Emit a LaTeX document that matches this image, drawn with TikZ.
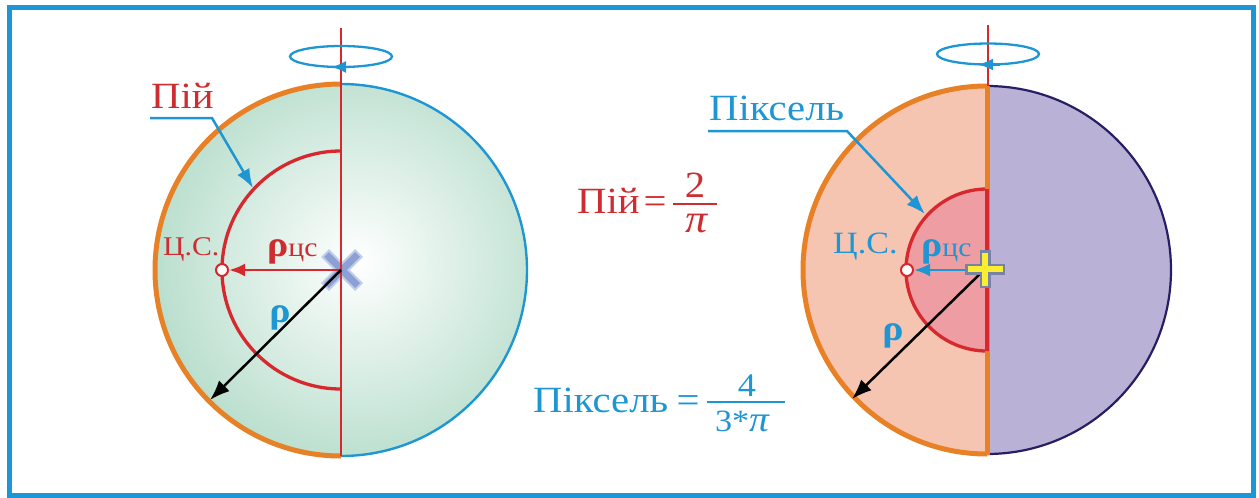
\documentclass[tikz,border=0pt]{standalone}
\usepackage{fontspec}
\setmainfont{Liberation Serif}[FakeStretch=1.1]
\usetikzlibrary{arrows.meta}
\definecolor{frameblue}{RGB}{28,150,214}
\definecolor{axred}{RGB}{214,40,45}
\definecolor{txtred}{RGB}{205,45,48}
\definecolor{orng}{RGB}{232,128,38}
\definecolor{lblue}{RGB}{30,150,212}
\definecolor{salmon}{RGB}{245,197,178}
\definecolor{pinkin}{RGB}{238,158,163}
\definecolor{lav}{RGB}{186,177,214}
\definecolor{navy}{RGB}{40,30,100}
\definecolor{sgreen}{RGB}{182,221,203}
\definecolor{xblue}{RGB}{140,160,212}
\definecolor{xlight}{RGB}{190,205,235}
\definecolor{plusyel}{RGB}{250,238,50}
\definecolor{plusgray}{RGB}{120,130,165}
\tikzset{
  big/.style={font=\fontsize{37}{40}\selectfont, inner sep=0pt},
  mid/.style={font=\fontsize{27}{30}\selectfont, inner sep=0pt},
  rhofont/.style={font=\fontsize{36}{40}\selectfont\bfseries, inner sep=0pt},
  leader/.style={lblue, line width=2.5pt, -{Latex[length=19pt,width=14pt]}},
  blackarr/.style={black, line width=2.5pt, -{Latex[length=20pt,width=15pt]}},
  rotell/.style={lblue, line width=2.3pt},
  rotarr/.style={lblue, line width=2.3pt, -{Latex[length=15pt,width=12pt]}},
  csdot/.style={circle, draw=axred, fill=white, line width=2pt, minimum size=12pt, inner sep=0pt},
}
\begin{document}
\begin{tikzpicture}[x=1pt,y=-1pt]
\useasboundingbox (0,0) rectangle (1259,498);
\draw[frameblue, line width=5pt] (9.5,7) rectangle (1253,495);

% ---------- left sphere ----------
\coordinate (L) at (341,270);
\begin{scope}
  \clip (L) circle (186pt);
  \shade[inner color=white, outer color=sgreen] (358,262) circle (215pt);
\end{scope}
\draw[lblue, line width=2.4pt] (341,84) arc[start angle=90, end angle=-90, radius=186pt];
\draw[orng, line width=5pt] (341,84) arc[start angle=90, end angle=270, radius=186pt];
\draw[axred, line width=3.3pt] (341,151) arc[start angle=90, end angle=270, radius=119pt];
% cross marker
\draw[xlight, line width=11pt] (325,253) -- (359,287) (325,287) -- (359,253);
\draw[xblue, line width=7pt] (326.5,254.5) -- (357.5,285.5) (326.5,285.5) -- (357.5,254.5);
% axis
\coordinate (LaxT) at (341,28);
\coordinate (LaxB) at (341,456);
\draw[axred, line width=1.8pt] (LaxT) -- (LaxB);
% rotation ellipse
\draw[rotell] (341,56.5) ellipse [x radius=51pt, y radius=10.5pt];
\coordinate (LeA) at (354,67);
\coordinate (LeB) at (331,67);
\draw[rotarr] (LeA) -- (LeB);
% centre of mass
\node[csdot] (Lcs) at (222,270) {};
\draw[axred, line width=2.8pt, -{Latex[length=16pt,width=13pt]}] (L) -- (Lcs);
\node[mid, txtred, anchor=base west] (Lcslbl) at (163,255) {Ц.С.};
\node[anchor=base west, txtred, inner sep=0pt] (Lrcs) at (267,256)
  {{\fontsize{36}{40}\selectfont\bfseries ρ}{\fontsize{27}{30}\selectfont цс}};
% radius
\coordinate (Lrim) at (210,400);
\draw[blackarr] (L) -- (Lrim);
\node[rhofont, lblue, anchor=base] (Lrho) at (280,322) {ρ};
% label Пій
\node[big, txtred, anchor=base west] (pij) at (151,108) {Пій};
\coordinate (pijA) at (150,118);
\coordinate (pijB) at (212,118);
\coordinate (pijC) at (253,188);
\draw[leader] (pijA) -- (pijB) -- (pijC);

% ---------- right sphere ----------
\coordinate (R) at (987,270);
\fill[salmon] (987,86) arc[start angle=90, end angle=270, radius=184pt] -- cycle;
\filldraw[fill=lav, draw=navy, line width=2.2pt] (987,86) arc[start angle=90, end angle=-90, radius=184pt];
\draw[orng, line width=5pt] (987,86) arc[start angle=90, end angle=270, radius=184pt];
\filldraw[fill=pinkin, draw=axred, line width=3.3pt] (987,189) arc[start angle=90, end angle=270, radius=81pt] -- cycle;
\coordinate (RaxT) at (988,25);
\coordinate (RaxM) at (988,86);
\coordinate (RaxB) at (987,455);
\draw[axred, line width=1.8pt] (RaxT) -- (RaxM);
\draw[orng, line width=5pt] (987,86) -- (RaxB);
\draw[axred, line width=3.8pt] (987,189) -- (987,351);
\draw[rotell] (988,54) ellipse [x radius=51pt, y radius=10.5pt];
\coordinate (ReA) at (1000,64.5);
\coordinate (ReB) at (978,64.5);
\draw[rotarr] (ReA) -- (ReB);
% centre of mass
\node[csdot] (Rcs) at (907,270) {};
\draw[blackarr] (984,270) -- (852,399);
\draw[lblue, line width=2.8pt, -{Latex[length=16pt,width=13pt]}] (975,270) -- (Rcs);
% plus marker
\draw[plusgray, line width=11pt] (965,269) -- (1005,269) (985,250) -- (985,288);
\draw[plusyel, line width=6.5pt] (967.5,269) -- (1002.5,269) (985,252.5) -- (985,285.5);
\node[font=\fontsize{31}{34}\selectfont, inner sep=0pt, lblue, anchor=base west] (Rcslbl) at (833,253) {Ц.С.};
\node[anchor=base west, lblue, inner sep=0pt] (Rrcs) at (921,256)
  {{\fontsize{36}{40}\selectfont\bfseries ρ}{\fontsize{27}{30}\selectfont цс}};
\node[rhofont, lblue, anchor=base] (Rrho) at (893,340) {ρ};
% label Піксель
\node[big, lblue, anchor=base west] (pix) at (709,120) {Піксель};
\coordinate (pixA) at (708,131);
\coordinate (pixB) at (847,131);
\coordinate (pixC) at (925,214);
\draw[leader] (pixA) -- (pixB) -- (pixC);

% ---------- formulas ----------
\node[big, txtred, anchor=base west] (f1a) at (577,213) {Пій};
\node[big, txtred, anchor=base] (f1eq) at (655,213) {=};
\coordinate (f1L) at (673,204);
\coordinate (f1R) at (717,204);
\draw[txtred, line width=2pt] (f1L) -- (f1R);
\node[big, txtred, anchor=base] (f1n) at (695,197) {2};
\node[font=\fontsize{40}{42}\selectfont\itshape, inner sep=0pt, txtred, anchor=base] (f1d) at (697,232) {π};

\node[big, lblue, anchor=base west] (f2a) at (533,412) {Піксель};
\node[big, lblue, anchor=base] (f2eq) at (688,412) {=};
\coordinate (f2L) at (707,402);
\coordinate (f2R) at (785,402);
\draw[lblue, line width=2pt] (f2L) -- (f2R);
\node[font=\fontsize{33}{36}\selectfont, inner sep=0pt, lblue, anchor=base] (f2n) at (747,396) {4};
\node[inner sep=0pt, lblue, anchor=base] (f2d) at (742,431)
  {{\fontsize{31}{34}\selectfont 3*}{\fontsize{36}{38}\selectfont\itshape π}};
\end{tikzpicture}
\end{document}
